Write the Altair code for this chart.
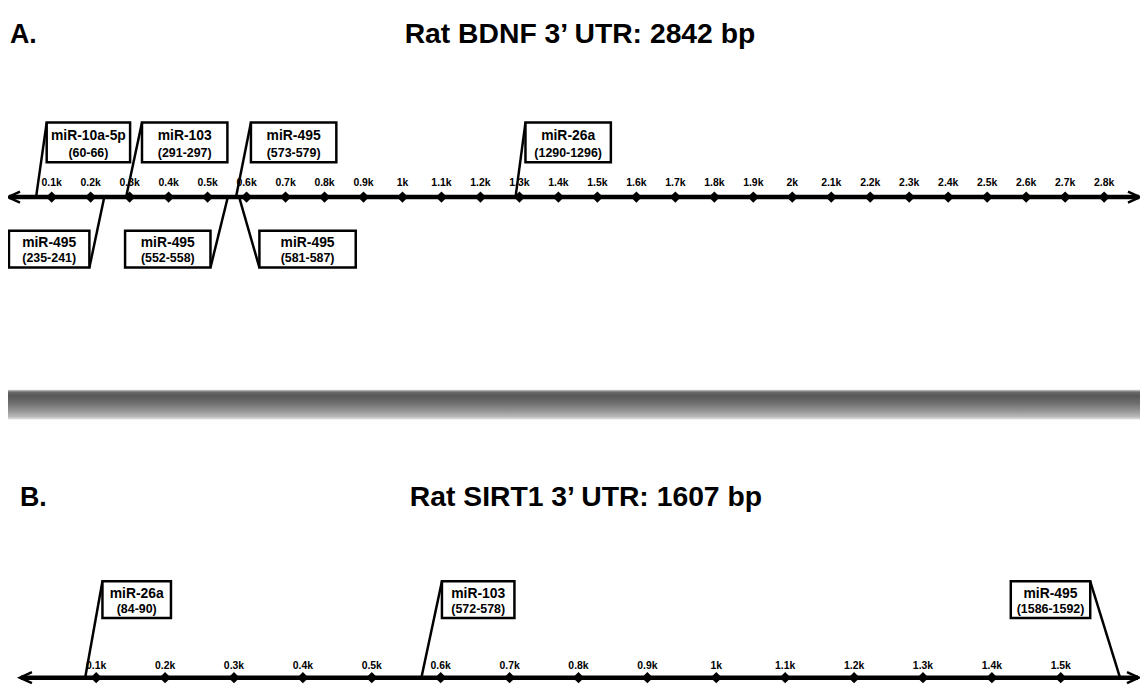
import altair as alt
import pandas as pd

# ---------------- data ----------------
bdnf_ticks = [100, 200, 300, 400, 500, 600, 700, 800, 900, 1000, 1100, 1200, 1300, 1400,
              1500, 1600, 1700, 1800, 1900, 2000, 2100, 2200, 2300, 2400, 2500, 2600, 2700, 2800]
bdnf_tick_labels = ["0.1k", "0.2k", "0.3k", "0.4k", "0.5k", "0.6k", "0.7k", "0.8k", "0.9k", "1k",
                    "1.1k", "1.2k", "1.3k", "1.4k", "1.5k", "1.6k", "1.7k", "1.8k", "1.9k", "2k",
                    "2.1k", "2.2k", "2.3k", "2.4k", "2.5k", "2.6k", "2.7k", "2.8k"]
bdnf_names = ["miR-10a-5p", "miR-103", "miR-495", "miR-26a", "miR-495", "miR-495", "miR-495"]
bdnf_start = [60, 291, 573, 1290, 235, 552, 581]
bdnf_end = [66, 297, 579, 1296, 241, 558, 587]

sirt1_ticks = [100, 200, 300, 400, 500, 600, 700, 800, 900, 1000, 1100, 1200, 1300, 1400, 1500]
sirt1_tick_labels = ["0.1k", "0.2k", "0.3k", "0.4k", "0.5k", "0.6k", "0.7k", "0.8k", "0.9k", "1k",
                     "1.1k", "1.2k", "1.3k", "1.4k", "1.5k"]
sirt1_names = ["miR-26a", "miR-103", "miR-495"]
sirt1_start = [84, 572, 1586]
sirt1_end = [90, 578, 1592]

# ---------------- layout ----------------
W, H = 1140, 677
FONT = "Liberation Sans"

bdnf_side = ["top", "top", "top", "top", "bottom", "bottom", "bottom"]
bdnf_box_dx = [10.7, 16, 15, 10, -96, -103.5, 20.4]
bdnf_box_w = [84, 86, 86, 86, 81, 86, 97]

sirt1_side = ["top", "top", "top"]
sirt1_box_dx = [17.4, 20.7, -110]
sirt1_box_w = [69, 73, 80]


def hdr_chart(text, x, y, size=27, align="left"):
    return alt.Chart(pd.DataFrame({"t": [text]})).mark_text(
        font=FONT, fontWeight="bold", fontSize=size, align=align, baseline="alphabetic",
        color="black").encode(x=alt.value(x), y=alt.value(y), text="t:N")


def core(ticks, labels, names, starts, ends, sides, dxs, widths, domain,
         axis_y, label_y, rows, line_x):
    span = domain[1] - domain[0]
    ppb = W / span
    xs = alt.Scale(domain=domain, nice=False, zero=False)
    recs = []
    for n, s, e, sd, dx, w in zip(names, starts, ends, sides, dxs, widths):
        x1 = s + dx / ppb
        x2 = x1 + w / ppb
        top, bot, ny, ry = rows[sd]
        recs.append(dict(name=n, rng=f"({s}-{e})", site=s, x1=x1, x2=x2, xc=(x1 + x2) / 2,
                         corner_x=(x1 if dx > 0 else x2), y_axis=axis_y,
                         corner_y=(top if sd == "top" else bot),
                         top=top, bot=bot, ny=ny, ry=ry))
    boxes = pd.DataFrame(recs)
    tk = pd.DataFrame({"tick": ticks, "label": labels})
    one = pd.DataFrame({"d": [0]})
    layers = [
        alt.Chart(one).mark_rule(color="black", strokeWidth=4.5).encode(
            x=alt.value(line_x[0] + 1), x2=alt.value(line_x[1] - 1), y=alt.value(axis_y)),
        alt.Chart(one).mark_point(shape="M2.2,-1L0,0L2.2,1", filled=False, size=121,
                                  color="black", strokeWidth=2.5, opacity=1).encode(
            x=alt.value(line_x[0]), y=alt.value(axis_y)),
        alt.Chart(one).mark_point(shape="M-2.2,-1L0,0L-2.2,1", filled=False, size=121,
                                  color="black", strokeWidth=2.5, opacity=1).encode(
            x=alt.value(line_x[1]), y=alt.value(axis_y)),
        alt.Chart(boxes).mark_rule(color="black", strokeWidth=2.5).encode(
            x=alt.X("site:Q", scale=xs, axis=None), x2="corner_x:Q",
            y=alt.Y("y_axis:Q", scale=None), y2="corner_y:Q"),
        alt.Chart(tk).mark_point(shape="diamond", filled=True, size=130, color="black",
                                 opacity=1).encode(
            x=alt.X("tick:Q", scale=xs, axis=None), y=alt.value(axis_y)),
        alt.Chart(tk).mark_text(font=FONT, fontWeight="bold", fontSize=10.5,
                                baseline="middle", color="black").encode(
            x=alt.X("tick:Q", scale=xs, axis=None), y=alt.value(label_y), text="label:N"),
        alt.Chart(boxes).mark_rect(fill="white", stroke="black", strokeWidth=2.5).encode(
            x=alt.X("x1:Q", scale=xs, axis=None), x2="x2:Q",
            y=alt.Y("top:Q", scale=None), y2="bot:Q"),
        alt.Chart(boxes).mark_text(font=FONT, fontWeight="bold", fontSize=14,
                                   baseline="middle", color="black").encode(
            x=alt.X("xc:Q", scale=xs, axis=None), y=alt.Y("ny:Q", scale=None), text="name:N"),
        alt.Chart(boxes).mark_text(font=FONT, fontWeight="bold", fontSize=12.5,
                                   baseline="middle", color="black").encode(
            x=alt.X("xc:Q", scale=xs, axis=None), y=alt.Y("ry:Q", scale=None), text="rng:N"),
    ]
    return alt.layer(*layers)


panel_a = alt.layer(
    core(bdnf_ticks, bdnf_tick_labels, bdnf_names, bdnf_start, bdnf_end, bdnf_side,
         bdnf_box_dx, bdnf_box_w, [-12, 2892], axis_y=188, label_y=174,
         rows={"top": (113, 153, 127, 144), "bottom": (222, 259, 234, 249)},
         line_x=(0, 1140)),
    hdr_chart("A.", 2, 33),
    hdr_chart("Rat BDNF 3\u2019 UTR: 2842 bp", 576, 33, size=28.5, align="center"),
)

panel_b = alt.layer(
    core(sirt1_ticks, sirt1_tick_labels, sirt1_names, sirt1_start, sirt1_end, sirt1_side,
         sirt1_box_dx, sirt1_box_w, [-28, 1615], axis_y=672, label_y=660,
         rows={"top": (575, 612, 588, 603)},
         line_x=(12, 1139)),
    hdr_chart("B.", 12, 499),
    hdr_chart("Rat SIRT1 3\u2019 UTR: 1607 bp", 582, 499, size=28.5, align="center"),
)

separator = alt.Chart(pd.DataFrame({"d": [0]})).mark_rect(
    fill=alt.LinearGradient(
        gradient="linear", x1=0, x2=0, y1=0, y2=1,
        stops=[alt.GradientStop(color="#d8d8d8", offset=0),
               alt.GradientStop(color="#6a6a6a", offset=0.08),
               alt.GradientStop(color="#575757", offset=0.2),
               alt.GradientStop(color="#6e6e6e", offset=0.45),
               alt.GradientStop(color="#939393", offset=0.7),
               alt.GradientStop(color="#b8b8b8", offset=0.9),
               alt.GradientStop(color="#e4e4e4", offset=1)])
).encode(x=alt.value(0), x2=alt.value(W), y=alt.value(382), y2=alt.value(412))

chart = alt.layer(panel_a, separator, panel_b).resolve_scale(x="independent").properties(
    width=W, height=H, padding=0, autosize=alt.AutoSizeParams(type="none"),
    background="white",
).configure_view(stroke=None)

chart.save("out.html", embed_options={"renderer": "svg", "actions": False})
